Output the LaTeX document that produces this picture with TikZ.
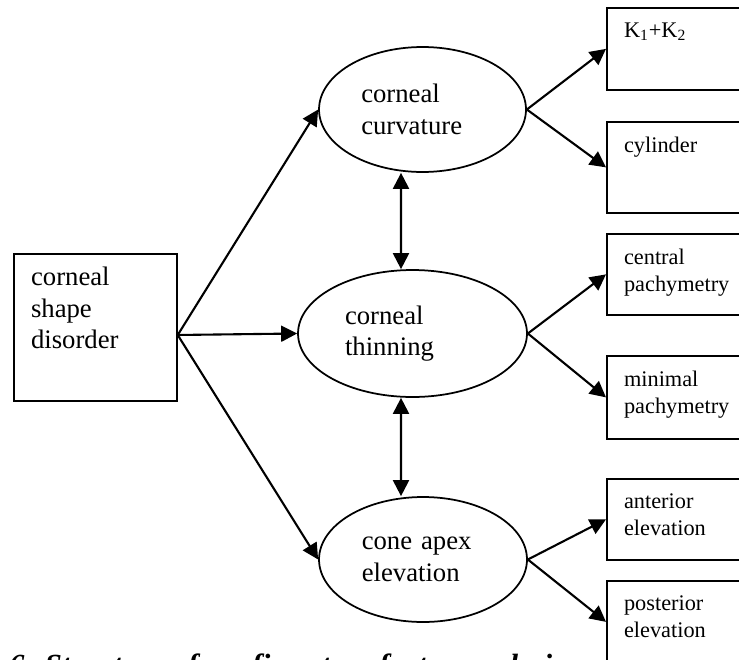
\documentclass[tikz,border=0pt]{standalone}
\usepackage{fontspec}
\setmainfont{Liberation Serif}
\usepackage{tikz}
\usetikzlibrary{positioning,arrows.meta,shapes.geometric}
\tikzset{
  >={Triangle[length=0.32cm,width=0.32cm]},
  latent/.style={ellipse, draw, line width=0.035cm, inner sep=0pt,
    align=left, text width=2.45cm, font=\fontsize{15.2}{18}\selectfont},
  indicator/.style={rectangle, draw, line width=0.035cm, anchor=north west,
    minimum width=3cm, inner sep=0pt},
  boxtext/.style={anchor=north west, align=left, inner sep=0pt,
    xshift=0.34cm, yshift=-0.3cm, font=\fontsize{12.7}{15.4}\selectfont},
  bigtext/.style={yshift=0.04cm, font=\fontsize{15.2}{17.9}\selectfont},
}

\begin{document}
\begin{tikzpicture}[x=0.02cm, y=-0.02cm, line width=0.042cm]
  \useasboundingbox (0,0) rectangle (739,659);
  \clip (0,0) rectangle (739,659);
  % factor
  \node[indicator, minimum width=3.26cm, minimum height=2.94cm,
    label={[boxtext, bigtext]north west:{corneal\\shape\\disorder}}] (csd) at (13,253) {};
  % latent variables
  \node[latent, minimum width=4.14cm, minimum height=2.5cm] (curv) at (422.5,109.5) {corneal\\curvature};
  \node[latent, minimum width=4.58cm, minimum height=2.54cm, text width=2.7cm] (thin) at (412.5,333.5) {corneal\\thinning};
  \node[latent, minimum width=4.16cm, minimum height=2.5cm] (apex) at (423,559.5) {cone apex\\elevation};
  % indicators
  \node[indicator, minimum height=1.64cm, label={[boxtext]north west:{K\textsubscript{1}+K\textsubscript{2}}}] (kk) at (606,7) {};
  \node[indicator, minimum height=1.82cm, label={[boxtext]north west:{cylinder}}] (cyl) at (606,121) {};
  \node[indicator, minimum height=1.62cm, label={[boxtext]north west:{central\\pachymetry}}] (cpach) at (606,233) {};
  \node[indicator, minimum height=1.66cm, label={[boxtext]north west:{minimal\\pachymetry}}] (mpach) at (606,355) {};
  \node[indicator, minimum height=1.62cm, label={[boxtext]north west:{anterior\\elevation}}] (aelev) at (606,478) {};
  \node[indicator, minimum height=1.64cm, label={[boxtext]north west:{posterior\\elevation}}] (pelev) at (606,580) {};
  % caption (cut off at the bottom)
  \node[anchor=base west, inner sep=0pt, font=\fontsize{17.5}{20}\selectfont\bfseries\itshape] (cap) at (8,675) {6: Structure of confirmatory factor analysis};

  \draw[->] ([yshift=-1.64cm]csd.north east) -- (curv.west);
  \draw[->] ([yshift=-1.64cm]csd.north east) -- (thin.west);
  \draw[->] ([yshift=-1.64cm]csd.north east) -- (apex.west);
  \draw[<->] ([xshift=-0.43cm]curv.south) -- ([xshift=-0.23cm]thin.north);
  \draw[<->] ([xshift=-0.23cm]thin.south) -- ([xshift=-0.44cm]apex.north);
  \draw[->] (curv.east) -- (kk.west);
  \draw[->] (curv.east) -- (cyl.west);
  \draw[->] (thin.east) -- (cpach.west);
  \draw[->] (thin.east) -- (mpach.west);
  \draw[->] (apex.east) -- (aelev.west);
  \draw[->] (apex.east) -- (pelev.west);
\end{tikzpicture}
\end{document}
